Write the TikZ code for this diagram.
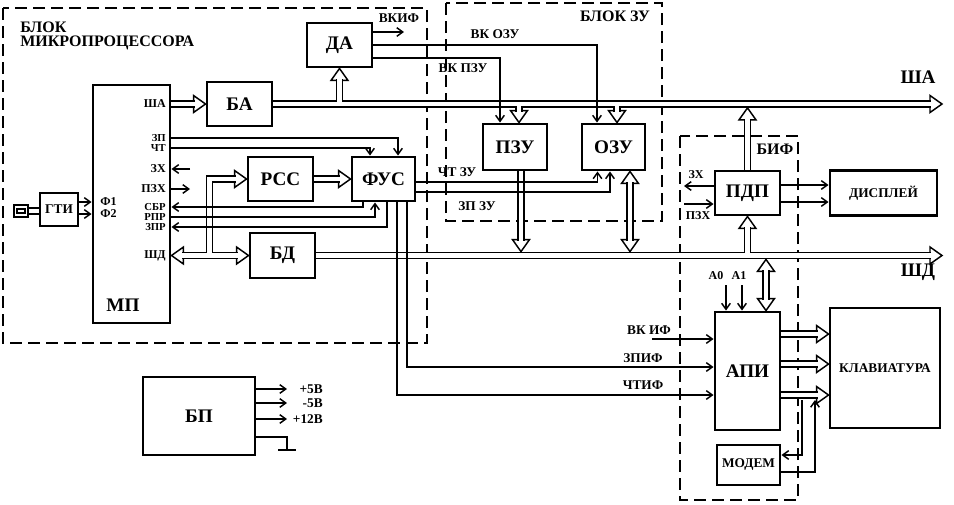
\documentclass[tikz,border=0pt]{standalone}
\usepackage{fontspec}
\setmainfont{Liberation Serif}
\usepackage{tikz}
\usetikzlibrary{
    arrows.meta,
    calc
}

\tikzset{
    blk/.style={draw, line width=2.2pt, inner sep=1pt, font=\bfseries\Large},
    grp/.style={line width=1pt, dash pattern=on 9pt off 4.5pt},
    lbl/.style={inner sep=0pt, font=\bfseries\normalsize},
    pinlbl/.style={inner sep=0pt, anchor=east, font=\bfseries\small},
    wire/.style={line width=1.1pt},
    sig/.style={wire, -{Straight Barb[length=4.5pt, width=6.5pt]}},
    bus/.style={line width=1.1pt, double, double distance=3.6pt},
    bushead/.pic={
        \draw[line width=1.1pt, fill=white, line join=miter]
        (0, 0) -- (-12, 8.5) -- (-12, -8.5) -- cycle;
    }
}

\begin{document}
\begin{tikzpicture}[x=0.75pt, y=-0.75pt]
    \useasboundingbox (0, 0) rectangle (954, 504);

    \draw[grp] (3, 8) rectangle (427, 343);
    \draw[grp] (446, 3) rectangle (662, 221);
    \draw[grp] (680, 136) rectangle (798, 500);

    \node[lbl, anchor=west, font=\bfseries\large] (lblmp1) at (20, 27) {БЛОК};
    \node[lbl, anchor=west, font=\bfseries\large] (lblmp2) at (20, 43) {МИКРОПРОЦЕССОРА};
    \node[lbl, font=\bfseries\large] (lblzu) at (615, 16) {БЛОК ЗУ};
    \node[lbl, font=\bfseries\large] (lblbif) at (775, 149) {БИФ};

    \node[blk, minimum width=57.75pt, minimum height=178.5pt] (mp) at (131.5, 204) {};
    \node[lbl, font=\bfseries\Large] (lblmp) at (123, 305) {МП};
    \node[blk, minimum width=28.5pt, minimum height=24.75pt, font=\bfseries] (gti) at (59, 209.5) {ГТИ};
    \node[blk, minimum width=48.75pt, minimum height=33pt] (ba) at (239.5, 104) {БА};
    \node[blk, minimum width=48.75pt, minimum height=33pt] (da) at (339.5, 45) {ДА};
    \node[blk, minimum width=48.75pt, minimum height=33pt] (rss) at (280.5, 179) {РСС};
    \node[blk, minimum width=47.25pt, minimum height=33pt] (fus) at (383.5, 179) {ФУС};
    \node[blk, minimum width=48.75pt, minimum height=33.75pt] (bd) at (282.5, 255.5) {БД};
    \node[blk, minimum width=48pt, minimum height=34.5pt] (pzu) at (515, 147) {ПЗУ};
    \node[blk, minimum width=47.25pt, minimum height=34.5pt] (ozu) at (613.5, 147) {ОЗУ};
    \node[blk, minimum width=48.75pt, minimum height=33pt] (pdp) at (747.5, 193) {ПДП};
    \node[blk, minimum width=80.25pt, minimum height=33.75pt, font=\bfseries] (disp) at (883.5, 193) {ДИСПЛЕЙ};
    \node[blk, minimum width=48.75pt, minimum height=88.5pt] (api) at (747.5, 371) {АПИ};
    \node[blk, minimum width=82.5pt, minimum height=90pt, font=\bfseries] (klav) at (885, 368) {КЛАВИАТУРА};
    \node[blk, minimum width=47.25pt, minimum height=30pt, font=\bfseries] (modem) at (748.5, 465) {МОДЕМ};
    \node[blk, minimum width=84pt, minimum height=58.5pt] (bp) at (199, 416) {БП};

    \node[pinlbl] (psha) at (166, 104) {ША};
    \node[pinlbl, font=\bfseries\footnotesize] (pzp) at (166, 138) {ЗП};
    \node[pinlbl, font=\bfseries\footnotesize] (pcht) at (166, 148) {ЧТ};
    \node[pinlbl] (pzx) at (166, 169) {ЗХ};
    \node[pinlbl] (ppzx) at (166, 189) {ПЗХ};
    \node[pinlbl, font=\bfseries\footnotesize] (psbr) at (166, 207) {СБР};
    \node[pinlbl, font=\bfseries\footnotesize] (prpr) at (166, 217) {РПР};
    \node[pinlbl, font=\bfseries\footnotesize] (pzpr) at (166, 227) {ЗПР};
    \node[pinlbl] (pshd) at (166, 255.5) {ШД};
    \node[pinlbl, anchor=west] (pf1) at (100, 202) {Ф1};
    \node[pinlbl, anchor=west] (pf2) at (100, 214) {Ф2};

    \draw[line width=1.5pt] (14, 205) rectangle (28, 217);
    \draw[line width=0.8pt] (17, 209) rectangle (25, 213);
    \draw[line width=1.5pt] (28, 208) rectangle (40, 214);

    \node[lbl, font=\bfseries\Large] (lblsha) at (918, 77) {ША};
    \node[lbl, font=\bfseries\Large] (lblshd) at (918, 272) {ШД};
    \node[lbl] (lblvkif) at (399, 18) {ВКИФ};
    \node[lbl] (lblvkozu) at (495, 34) {ВК ОЗУ};
    \node[lbl] (lblvkpzu) at (463, 68) {ВК ПЗУ};
    \node[lbl] (lblchtzu) at (457, 172) {ЧТ ЗУ};
    \node[lbl] (lblzpzu) at (477, 206) {ЗП ЗУ};
    \node[lbl, font=\bfseries\small] (lblzx) at (696, 175) {ЗХ};
    \node[lbl, font=\bfseries\small] (lblpzx) at (698, 216) {ПЗХ};
    \node[lbl, font=\bfseries\small] (lbla0) at (716, 276) {А0};
    \node[lbl, font=\bfseries\small] (lbla1) at (739, 276) {А1};
    \node[lbl] (lblvkif2) at (649, 330) {ВК ИФ};
    \node[lbl] (lblzpif) at (643, 358) {ЗПИФ};
    \node[lbl] (lblchtif) at (643, 385) {ЧТИФ};
    \node[lbl, anchor=east] (lbl5p) at (323, 389) {+5В};
    \node[lbl, anchor=east] (lbl5m) at (323, 403) {-5В};
    \node[lbl, anchor=east] (lbl12) at (323, 419) {+12В};

    \coordinate (shaend) at (942, 104);
    \coordinate (shdend) at (942, 255.5);
    \coordinate (vkifo) at (404, 32);
    \coordinate (mpzx) at (190, 169);
    \coordinate (mppzx) at (190, 189);
    \coordinate (pdpzx) at (684, 186);
    \coordinate (pdppzx) at (684, 204);
    \coordinate (vkif) at (652, 339);
    \coordinate (a0) at (726, 285);
    \coordinate (a1) at (742, 285);
    \coordinate (mdin) at (802, 400);
    \coordinate (mdout) at (815, 400);
    \coordinate (bp5p) at (287, 389);
    \coordinate (bp5m) at (287, 403);
    \coordinate (bp12) at (287, 419);
    \coordinate (bpgnd) at (287, 450);

    \pic at (ba.west) {bushead};
    \draw[bus] (mp.east |- psha) -- ($(ba.west)+(-11, 0)$);

    \pic at (shaend) {bushead};
    \pic[rotate=90] at (da.south) {bushead};
    \pic[rotate=-90] at ($(pzu.north)+(4, 0)$) {bushead};
    \pic[rotate=-90] at ($(ozu.north)+(3.5, 0)$) {bushead};
    \draw[bus]
    (ba.east) -- ($(shaend)+(-11, 0)$)
    (da.south |- ba.east) -- ($(da.south)+(0, 11)$)
    ($(pzu.north |- ba.east)+(4, 0)$) -- ($(pzu.north)+(4, -11)$)
    ($(ozu.north |- ba.east)+(3.5, 0)$) -- ($(ozu.north)+(3.5, -11)$);

    \pic[rotate=90] at ($(pdp.north |- ba.east)+(0, 3.9)$) {bushead};
    \draw[bus] (pdp.north) -- ($(pdp.north |- ba.east)+(0, 14.9)$);

    \pic[rotate=180] at (mp.east |- pshd) {bushead};
    \pic at (bd.west) {bushead};
    \pic at (rss.west) {bushead};
    \draw[bus]
    ($(mp.east |- pshd)+(11, 0)$) -- ($(bd.west)+(-11, 0)$)
    ($(mp.east |- pshd)+(38, 0)$) |- ($(rss.west)+(-11, 0)$);

    \pic at (fus.west) {bushead};
    \draw[bus] (rss.east) -- ($(fus.west)+(-11, 0)$);

    \pic at (shdend) {bushead};
    \pic[rotate=90] at (pdp.south) {bushead};
    \draw[bus]
    (bd.east) -- ($(shdend)+(-11, 0)$)
    (pdp.south |- bd.east) -- ($(pdp.south)+(0, 11)$);

    \pic[rotate=-90] at ($(pzu.south |- bd.east)+(6, -3.9)$) {bushead};
    \draw[bus] ($(pzu.south)+(6, 0)$) -- ($(pzu.south |- bd.east)+(6, -14.9)$);

    \pic[rotate=90] at ($(ozu.south)+(16.5, 0)$) {bushead};
    \pic[rotate=-90] at ($(ozu.south |- bd.east)+(16.5, -3.9)$) {bushead};
    \draw[bus] ($(ozu.south)+(16.5, 11)$) -- ($(ozu.south |- bd.east)+(16.5, -14.9)$);

    \pic[rotate=90] at ($(api.north |- bd.east)+(18.5, 3.9)$) {bushead};
    \pic[rotate=-90] at ($(api.north)+(18.5, 0)$) {bushead};
    \draw[bus] ($(api.north |- bd.east)+(18.5, 14.9)$) -- ($(api.north)+(18.5, -11)$);

    \pic at ($(api.east -| klav.west)+(0, -37)$) {bushead};
    \pic at ($(api.east -| klav.west)+(0, -7)$) {bushead};
    \pic at ($(api.east -| klav.west)+(0, 24)$) {bushead};
    \draw[bus] ($(api.east)+(0, -37)$) -- ($(api.east -| klav.west)+(-11, -37)$);
    \draw[bus] ($(api.east)+(0, -7)$) -- ($(api.east -| klav.west)+(-11, -7)$);
    \draw[bus] ($(api.east)+(0, 24)$) -- ($(api.east -| klav.west)+(-11, 24)$);

    \draw[sig] (gti.east |- pf1) -- (mp.west |- pf1);
    \draw[sig] (gti.east |- pf2) -- (mp.west |- pf2);
    \draw[sig] (mp.east |- pzp) -| ($(fus.north)+(14.5, 0)$);
    \draw[sig] (mp.east |- pcht) -| ($(fus.north)+(-13.5, 0)$);
    \draw[sig] (mpzx) -- (mp.east |- mpzx);
    \draw[sig] (mp.east |- mppzx) -- (mppzx);
    \draw[sig] ($(fus.south)+(-20.5, 0)$) |- (mp.east |- psbr);
    \draw[sig] (mp.east |- prpr) -| ($(fus.south)+(-8.5, 0)$);
    \draw[sig] ($(fus.south)+(3.5, 0)$) |- (mp.east |- pzpr);
    \draw[sig] ($(fus.south)+(13.5, 0)$) |- ($(api.west)+(0, 24)$);
    \draw[sig] ($(fus.south)+(23.5, 0)$) |- ($(api.west)+(0, -4)$);
    \draw[sig] (vkif) -- (api.west |- vkif);
    \draw[sig] ($(fus.east)+(0, 3)$) -| ($(ozu.south)+(-16, 0)$);
    \draw[sig] ($(fus.east)+(0, 13)$) -| ($(ozu.south)+(-3.5, 0)$);
    \draw[sig] ($(da.east)+(0, -13)$) -- (vkifo);
    \draw[sig] (da.east) -| ($(ozu.north)+(-16.5, 0)$);
    \draw[sig] ($(da.east)+(0, 13)$) -| ($(pzu.north)+(-15, 0)$);
    \draw[sig] ($(pdp.west)+(0, -7)$) -- (pdpzx);
    \draw[sig] (pdppzx) -- (pdp.west |- pdppzx);
    \draw[sig] ($(pdp.east)+(0, -8)$) -- ($(disp.west)+(0, -8)$);
    \draw[sig] ($(pdp.east)+(0, 9)$) -- ($(disp.west)+(0, 9)$);
    \draw[sig] (a0) -- (api.north -| a0);
    \draw[sig] (a1) -- (api.north -| a1);
    \draw[sig] (mdin) |- ($(modem.east)+(0, -10)$);
    \draw[sig] ($(modem.east)+(0, 7)$) -| (mdout);
    \draw[sig] (bp.east |- bp5p) -- (bp5p);
    \draw[sig] (bp.east |- bp5m) -- (bp5m);
    \draw[sig] (bp.east |- bp12) -- (bp12);
    \draw[wire] ($(bp.east)+(0, 21)$) -| (bpgnd);
    \draw[wire, line width=2pt] ($(bpgnd)+(-9, 0)$) -- ($(bpgnd)+(9, 0)$);
\end{tikzpicture}
\end{document}
